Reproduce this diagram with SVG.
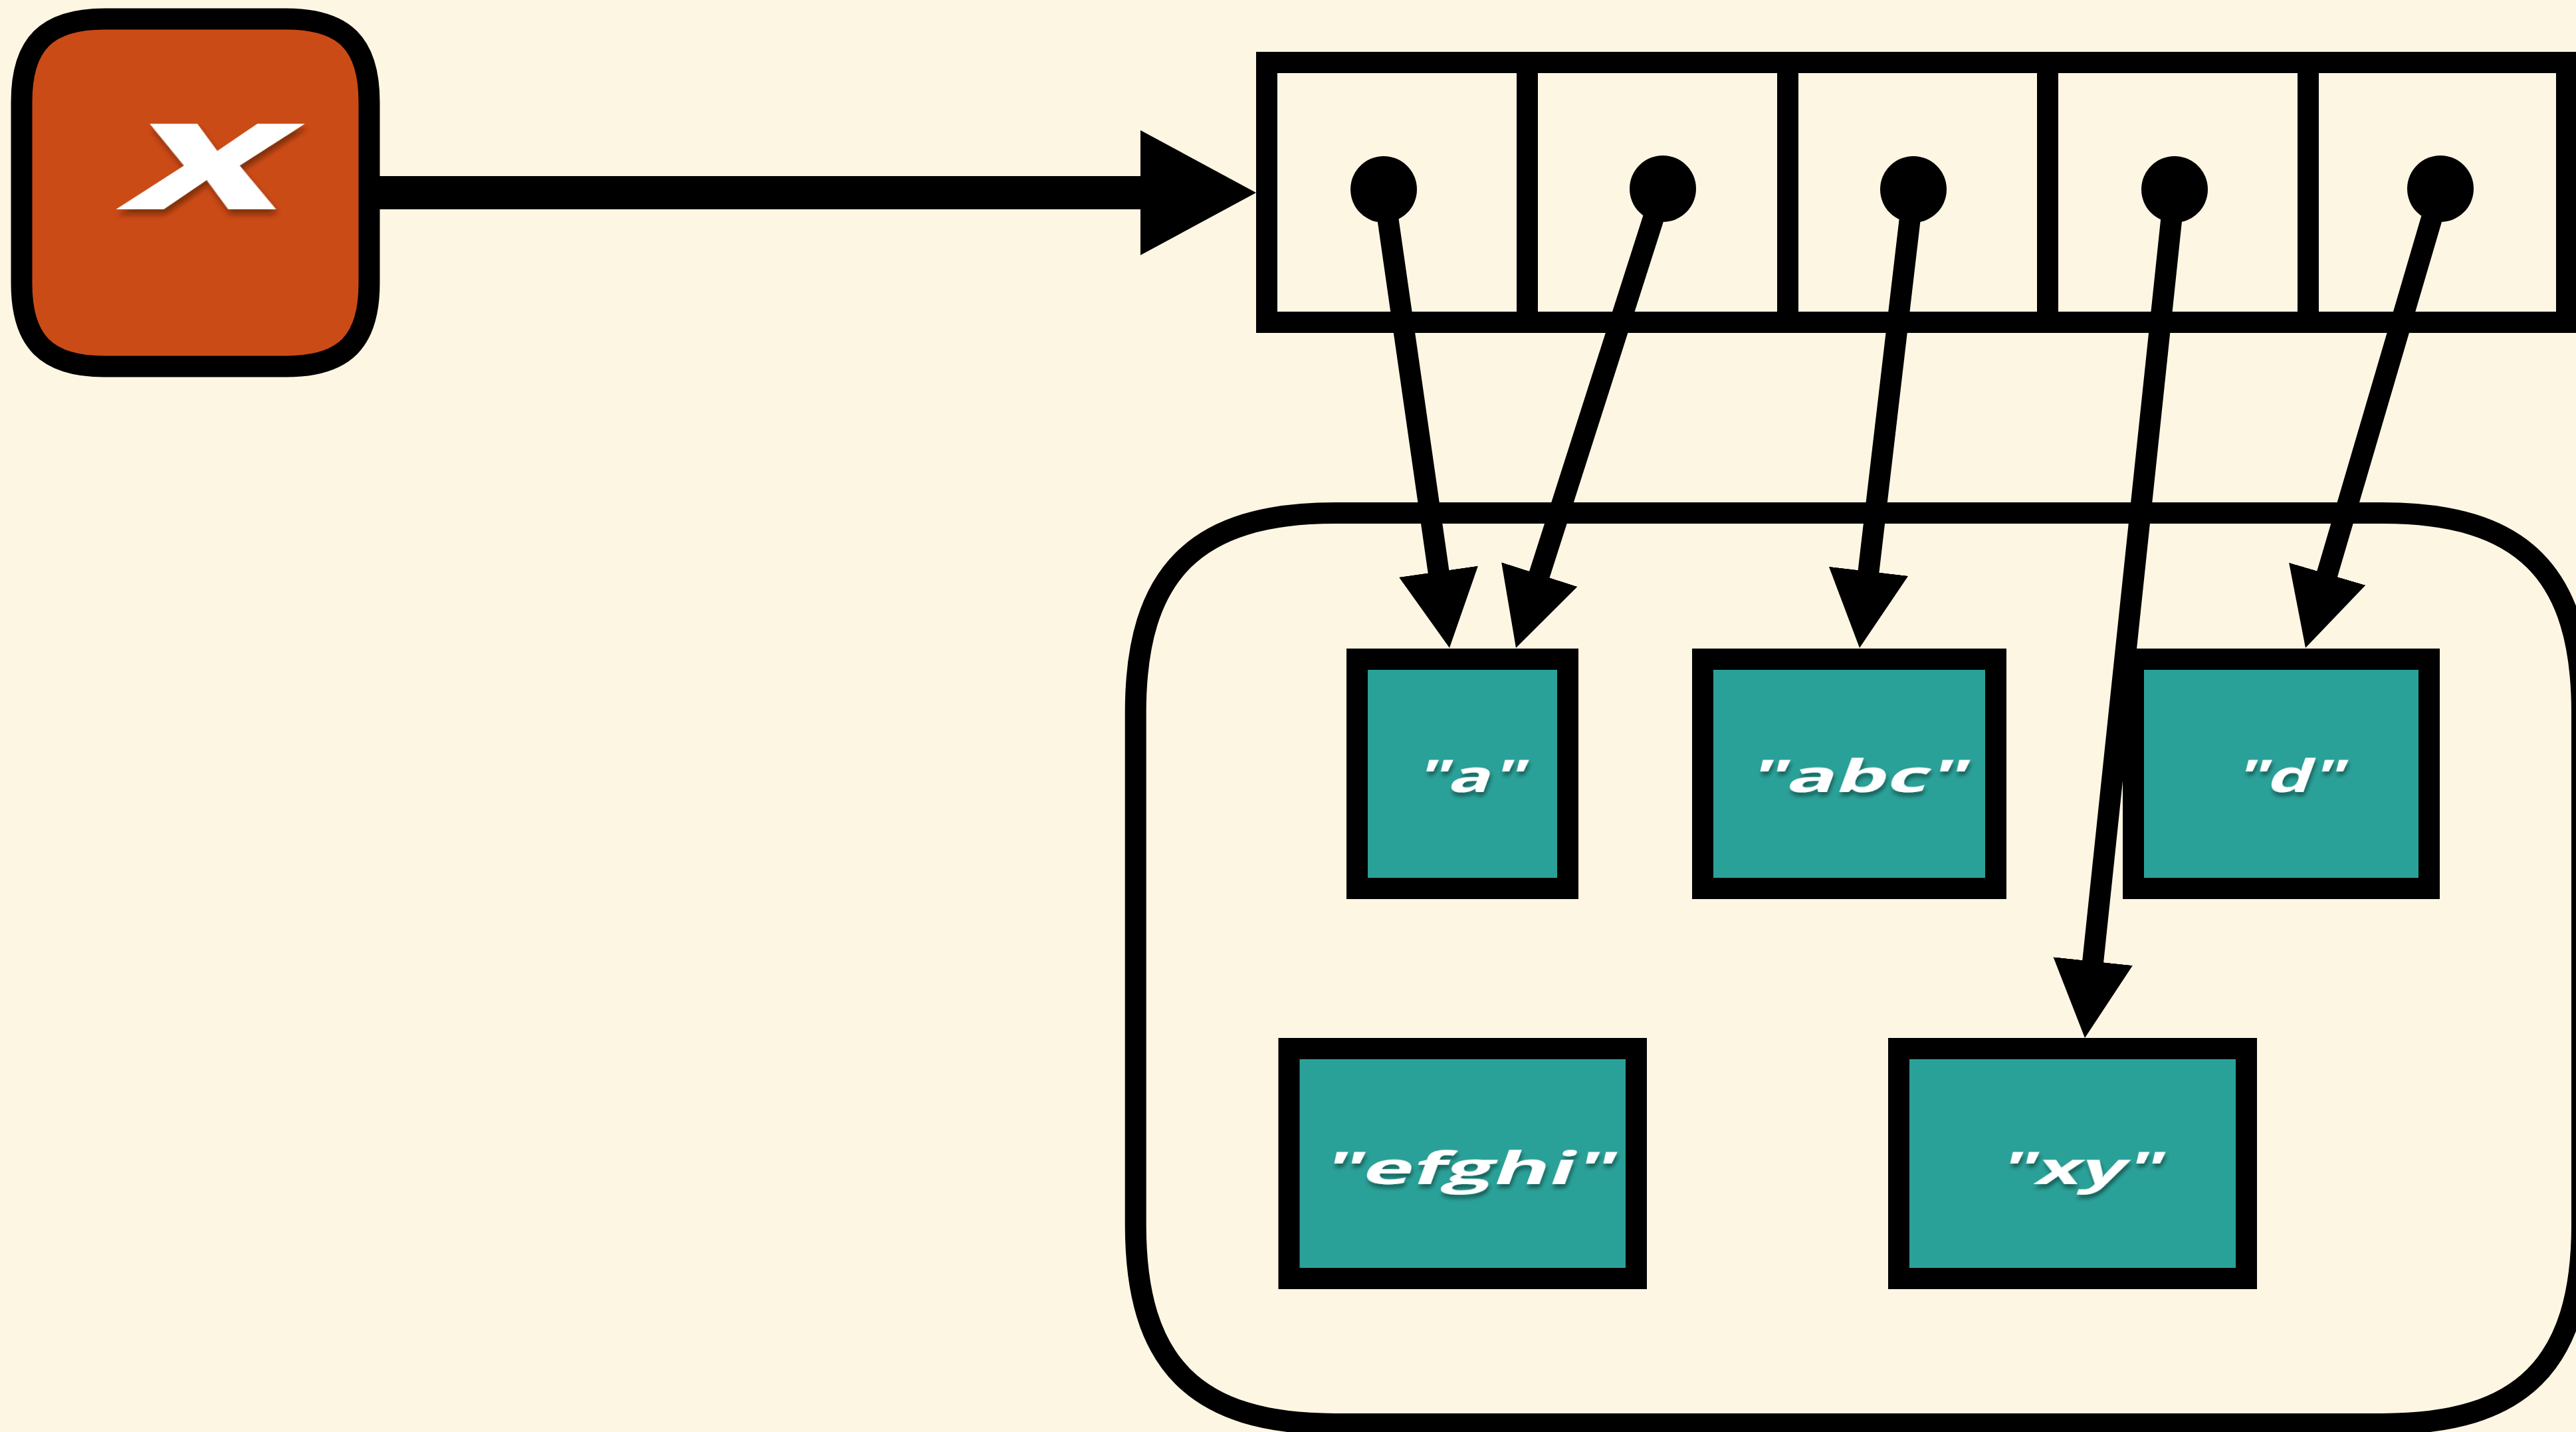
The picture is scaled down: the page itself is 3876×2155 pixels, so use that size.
<svg xmlns="http://www.w3.org/2000/svg" width="3876" height="2155" viewBox="0 0 3876 2155">
<style>
.bg{fill:#FDF6E3}
.box{fill:#2AA198;stroke:#000;stroke-width:32}
.frame{fill:none;stroke:#000;stroke-width:32}
.ptr{fill:none;stroke:#000;stroke-width:32;marker-end:url(#ah)}
.main{fill:none;stroke:#000;stroke-width:50;marker-end:url(#ahb)}
.lbl{font-family:"Open Sans","DejaVu Sans",sans-serif;font-weight:700;font-size:68px;fill:#fff;text-anchor:middle;filter:url(#sh)}
.var{font-family:"Open Sans","DejaVu Sans",sans-serif;font-weight:700;font-size:236px;fill:#fff;text-anchor:middle;filter:url(#sh2)}
</style>
<defs>
<filter id="sh" x="-20%" y="-40%" width="140%" height="190%">
<feDropShadow dx="4" dy="6" stdDeviation="3" flood-color="#000" flood-opacity="0.4"/>
</filter>
<filter id="sh2" x="-20%" y="-30%" width="140%" height="170%">
<feDropShadow dx="6" dy="8" stdDeviation="4" flood-color="#3a1000" flood-opacity="0.5"/>
</filter>
<marker id="ah" markerUnits="userSpaceOnUse" viewBox="0 -60 116 120" refX="3" refY="0" markerWidth="116" markerHeight="120" orient="auto">
<path d="M0,-60 L116,0 L0,60 Z" fill="#000"/>
</marker>
<marker id="ahb" markerUnits="userSpaceOnUse" viewBox="0 -94 174 188" refX="3" refY="0" markerWidth="174" markerHeight="188" orient="auto">
<path d="M0,-94 L174,0 L0,94 Z" fill="#000"/>
</marker>
</defs>
<rect class="bg" x="0" y="0" width="3876" height="2155"/>

<g id="heap">
<path class="frame" d="M2008.7,772 H3585 C3795,772 3885,862 3885,1072 V1843 C3885,2053 3795,2143 3585,2143 H2008.7 C1798.7,2143 1708.7,2053 1708.7,1843 V1072 C1708.7,862 1798.7,772 2008.7,772 Z"/>
</g>

<g id="var-x">
<path d="M157.5,28.5 H430.5 C518,28.5 555.5,66 555.5,153.5 V426.5 C555.5,514 518,551.5 430.5,551.5 H157.5 C70,551.5 32.5,514 32.5,426.5 V153.5 C32.5,66 70,28.5 157.5,28.5 Z" fill="#CB4B16" stroke="#000" stroke-width="32"/>
<text class="var" x="295" y="0" textLength="245" lengthAdjust="spacingAndGlyphs" transform="translate(0,315) skewX(-20)">x</text>
</g>

<g id="array">
<rect class="frame" x="1906" y="94" width="1956" height="391"/>
<line x1="2298" y1="94" x2="2298" y2="485" stroke="#000" stroke-width="32"/>
<line x1="2690" y1="94" x2="2690" y2="485" stroke="#000" stroke-width="32"/>
<line x1="3081" y1="94" x2="3081" y2="485" stroke="#000" stroke-width="32"/>
<line x1="3473" y1="94" x2="3473" y2="485" stroke="#000" stroke-width="32"/>
<circle cx="2082" cy="285" r="50" fill="#000"/>
<circle cx="2502" cy="284" r="50" fill="#000"/>
<circle cx="2879" cy="285" r="50" fill="#000"/>
<circle cx="3272" cy="285" r="50" fill="#000"/>
<circle cx="3672" cy="284" r="50" fill="#000"/>
</g>

<g id="str-a">
<rect class="box" x="2042" y="992" width="317" height="345"/>
<text class="lbl" x="2208" y="0" textLength="164" lengthAdjust="spacingAndGlyphs" transform="translate(0,1192) skewX(-20)">&quot;a&quot;</text>
</g>
<g id="str-abc">
<rect class="box" x="2562" y="992" width="441" height="345"/>
<text class="lbl" x="2791" y="0" textLength="328" lengthAdjust="spacingAndGlyphs" transform="translate(0,1192) skewX(-20)">&quot;abc&quot;</text>
</g>
<g id="str-d">
<rect class="box" x="3210" y="992" width="445" height="345"/>
<text class="lbl" x="3441" y="0" textLength="164" lengthAdjust="spacingAndGlyphs" transform="translate(0,1192) skewX(-20)">&quot;d&quot;</text>
</g>
<g id="str-efghi">
<rect class="box" x="1939.5" y="1578" width="522.5" height="346"/>
<text class="lbl" x="2205" y="0" textLength="439" lengthAdjust="spacingAndGlyphs" transform="translate(0,1782) skewX(-20)">&quot;efghi&quot;</text>
</g>
<g id="str-xy">
<rect class="box" x="2857" y="1578" width="523" height="346"/>
<text class="lbl" x="3126" y="0" textLength="245" lengthAdjust="spacingAndGlyphs" transform="translate(0,1782) skewX(-20)">&quot;xy&quot;</text>
</g>

<g id="connectors">
<path class="main" d="M571,290 H1719"/>
<path class="ptr" d="M2082,285 L2164.95,863.15"/>
<path class="ptr" d="M2502,284 L2315.42,867.38"/>
<path class="ptr" d="M2879,285 L2811.18,862.77"/>
<path class="ptr" d="M3272,285 L3148.88,1449.62"/>
<path class="ptr" d="M3672,284 L3500.85,866.59"/>
</g>
</svg>
